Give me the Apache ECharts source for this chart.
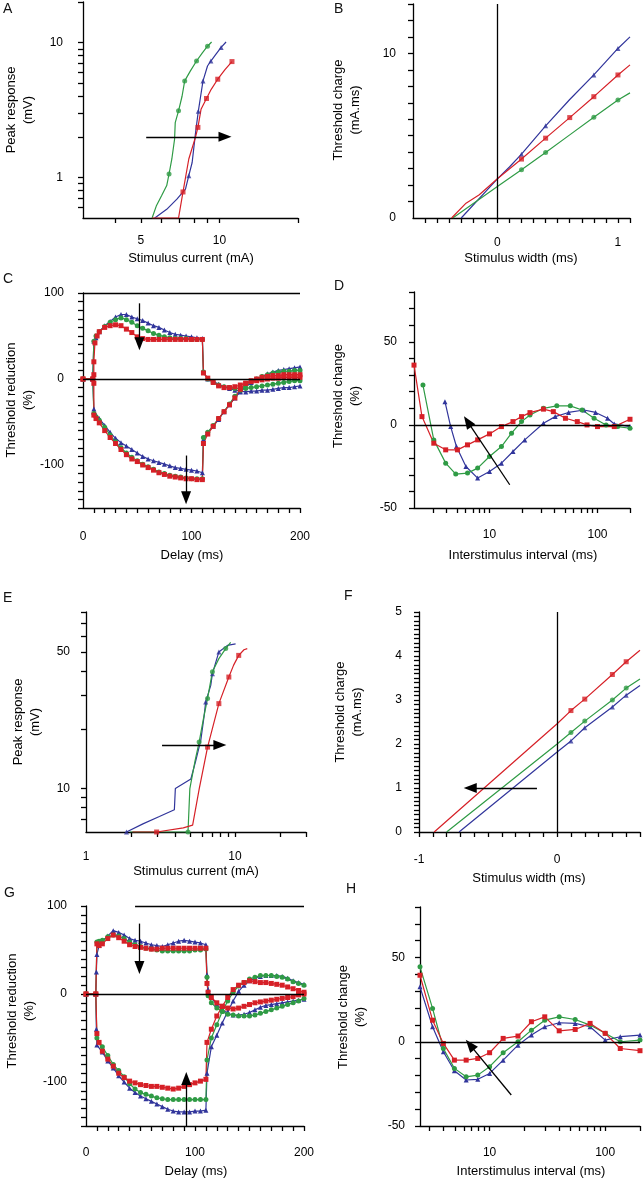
<!DOCTYPE html>
<html>
<head>
<meta charset="utf-8">
<title>Threshold tracking</title>
<script src="https://cdn.jsdelivr.net/npm/echarts@6.0.0/dist/echarts.min.js"></script>
<style>
  html, body { margin: 0; padding: 0; background: #fff; }
  #main { width: 644px; height: 1181px; }
</style>
</head>
<body>
<div id="main"></div>
<script>
// ---------- data ----------
// A: stimulus-response (log/log)
let aBlue = [[5.65,0.5],[6.28,0.58],[6.87,0.69],[7.41,0.82],[7.63,1.03],[7.86,1.29],[8.1,2.15],[8.3,3.1],[8.47,4.0],[8.65,5.2],[9.0,6.7],[9.27,7.3],[9.7,8.2],[10.15,9.2],[10.6,10.1]];
let aBlueMarks = [[7.63,1.03],[8.3,3.1],[8.65,5.2],[9.27,7.3],[10.15,9.2]];
let aGreen = [[5.52,0.5],[5.74,0.62],[6.0,0.73],[6.28,0.87],[6.41,1.06],[6.57,1.37],[6.73,1.92],[6.77,2.55],[6.97,3.12],[7.19,4.0],[7.36,5.2],[7.74,6.17],[8.17,7.3],[8.6,8.4],[9.0,9.4],[9.33,10.1]];
let aGreenMarks = [[6.41,1.06],[6.97,3.12],[7.36,5.2],[8.17,7.3],[9.0,9.4]];
let aRed = [[5.52,0.5],[6.97,0.5],[7.25,0.78],[7.63,1.37],[8.1,2.0],[8.27,2.35],[8.5,3.2],[8.92,3.85],[9.3,4.5],[9.85,5.35],[10.5,6.3],[11.17,7.23]];
let aRedMarks = [[7.25,0.78],[8.27,2.35],[8.92,3.85],[9.85,5.35],[11.17,7.23]];
let aArrow = [[5.24,2.0],[10.5,2.0]];

// B: charge-duration
let bBlue = [[-0.3,0],[0,2.38],[0.1,3.1],[0.2,3.88],[0.4,5.6],[0.6,7.2],[0.8,8.69],[1.0,10.3],[1.1,11.0]];
let bBlueMarks = [[0.2,3.88],[0.4,5.6],[0.8,8.69],[1.0,10.3]];
let bGreen = [[-0.37,0],[0,1.92],[0.2,2.93],[0.4,3.98],[0.6,5.05],[0.8,6.12],[1.0,7.17],[1.1,7.6]];
let bGreenMarks = [[0.2,2.93],[0.4,3.98],[0.8,6.12],[1.0,7.17]];
let bRed = [[-0.38,0],[-0.26,0.9],[-0.15,1.41],[0,2.38],[0.2,3.58],[0.4,4.85],[0.6,6.1],[0.8,7.37],[1.0,8.69],[1.1,9.3]];
let bRedMarks = [[0.2,3.58],[0.4,4.85],[0.6,6.1],[0.8,7.37],[1.0,8.69]];

// C: threshold electrotonus
let cBlueUp = [[0,0],[9,0],[10,44],[12,48],[15,55],[20,62],[25,67],[30,72],[35,75],[40,75],[45,72],[50,70],[55,68],[60,65],[65,62],[70,60],[75,57],[80,54],[85,52],[90,51],[95,50],[100,49],[105,48],[110,47],[111,8],[115,0],[120,-3],[125,-6],[130,-9],[135,-11],[140,-13],[145,-14],[150,-15],[155,-14],[160,-14],[165,-13],[170,-13],[175,-12],[180,-11],[185,-10],[190,-10],[195,-9],[200,-8]];
let cGreenUp = [[0,0],[9,0],[10,44],[12,50],[15,55],[20,61],[25,66],[30,69],[35,71],[40,69],[45,66],[50,62],[55,59],[60,56],[65,53],[70,51],[75,49],[80,48],[85,47],[90,47],[95,47],[100,46],[105,46],[110,46],[111,8],[115,0],[120,-4],[125,-7],[130,-9],[135,-10],[140,-11],[145,-11],[150,-11],[155,-10],[160,-9],[165,-8],[170,-7],[175,-6],[180,-5],[185,-4],[190,-3],[195,-2],[200,-2]];
let cRedUp = [[0,0],[9,0],[10,5],[10,20],[11,42],[13,50],[15,55],[20,60],[25,62],[30,63],[35,62],[40,58],[45,54],[50,49],[55,47],[60,46],[65,46],[70,46],[75,46],[80,46],[85,46],[90,46],[95,46],[100,46],[105,46],[110,46],[111,7],[115,1],[120,-4],[125,-8],[130,-10],[135,-10],[140,-9],[145,-7],[150,-5],[155,-3],[160,-2],[165,-1],[170,0],[175,1],[180,1],[185,2],[190,2],[195,2],[200,2]];
let cBlueDown = [[0,0],[9,0],[10,-35],[12,-42],[15,-46],[20,-54],[25,-62],[30,-69],[35,-74],[40,-78],[45,-82],[50,-86],[55,-90],[60,-93],[65,-95],[70,-97],[75,-99],[80,-101],[85,-103],[90,-104],[95,-105],[100,-106],[105,-107],[110,-109],[111,-70],[115,-62],[120,-55],[125,-47],[130,-38],[135,-30],[140,-22],[145,-15],[150,-9],[155,-4],[160,0],[165,3],[170,6],[175,8],[180,10],[185,11],[190,12],[195,13],[200,14]];
let cGreenDown = [[0,0],[9,0],[10,-40],[12,-44],[15,-48],[20,-56],[25,-65],[30,-73],[35,-80],[40,-86],[45,-91],[50,-95],[55,-99],[60,-102],[65,-105],[70,-108],[75,-110],[80,-112],[85,-113],[90,-114],[95,-115],[100,-116],[105,-116],[110,-116],[111,-68],[115,-62],[120,-54],[125,-46],[130,-38],[135,-29],[140,-20],[145,-13],[150,-7],[155,-3],[160,0],[165,3],[170,5],[175,7],[180,8],[185,9],[190,9],[195,10],[200,10]];
let cRedDown = [[0,0],[9,0],[10,-5],[10,-42],[12,-46],[15,-51],[20,-60],[25,-68],[30,-75],[35,-82],[40,-88],[45,-93],[50,-96],[55,-100],[60,-103],[65,-106],[70,-109],[75,-111],[80,-113],[85,-114],[90,-115],[95,-116],[100,-116],[105,-117],[110,-117],[111,-75],[115,-64],[120,-55],[125,-46],[130,-38],[135,-30],[140,-22],[145,-12],[150,-5],[155,-2],[160,0],[165,2],[170,3],[175,4],[180,4],[185,5],[190,5],[195,5],[200,5]];
let cArrows = [[[52,88],[52,41]],[[95,-89],[95,-138]]];
let cBar = [[0,100],[200,100]];

// D: recovery cycle
let dBlue = [[3.87,14],[4.37,-1],[4.94,-13],[6.05,-25],[7.77,-32],[10,-28],[12.9,-23],[16.5,-16],[21.2,-9],[31.6,1],[40.6,5],[54,7.5],[75,9],[96,7.5],[124,4],[143,0.6],[200,-1]];
let dGreen = [[2.42,24],[3.05,-9],[3.93,-23],[4.87,-29.6],[6.26,-29],[7.77,-26],[10,-19],[12.9,-13],[16,-5],[19.8,2],[23.7,6],[31.6,10],[42,11.5],[56,11.5],[72,9],[93,4],[120,0],[154,-1],[200,-2]];
let dRed = [[2,36],[2.37,5],[3.05,-11],[3.93,-15],[5.05,-15],[6.26,-12],[7.77,-9],[10,-5.4],[12.9,-1],[16.5,2],[19.8,5],[23.7,7.4],[31.6,9.5],[39,8],[50.5,4],[65,2],[80,0],[100,-1],[143,-1],[200,3.4]];
let dArrow = [[15.4,-36],[6.27,2]];

// E: stimulus-response (log/log)
let eBlue = [[1.87,6],[2.41,6.6],[3.11,7.2],[3.92,7.8],[3.98,10],[5.06,11.2],[5.47,14],[5.9,17.7],[6.2,23.3],[6.36,27.7],[6.88,33.7],[7.06,38.7],[7.8,50],[8.9,54],[10.1,55]];
let eBlueMarks = [[1.87,6],[6.36,27.7],[7.06,38.7],[7.8,50]];
let eGreen = [[1.97,6],[4.84,6],[4.98,10],[5.41,14],[5.75,17.3],[6.12,22.4],[6.55,28.9],[7.06,39.6],[7.8,46.2],[8.67,52],[9.36,56]];
let eGreenMarks = [[4.84,6],[5.75,17.3],[6.55,28.9],[7.06,39.6],[8.67,52]];
let eRed = [[2.05,6],[2.98,6],[4.5,6.3],[5.2,6.5],[5.76,10],[6.55,16.3],[7.8,27.2],[9.1,37.2],[9.8,42.8],[10.6,48],[11.5,51.3],[12.1,52]];
let eRedMarks = [[2.98,6],[6.55,16.3],[7.8,27.2],[9.1,37.2],[10.6,48]];
let eArrow = [[3.24,16.7],[7.92,16.7]];

// F: charge-duration
let fBlue = [[-0.71,0],[0,1.82],[0.1,2.07],[0.2,2.37],[0.4,2.84],[0.5,3.11],[0.6,3.33]];
let fBlueMarks = [[0.1,2.07],[0.2,2.37],[0.4,2.84],[0.5,3.11]];
let fGreen = [[-0.8,0],[0,2.0],[0.1,2.26],[0.2,2.52],[0.4,3.0],[0.5,3.27],[0.6,3.48]];
let fGreenMarks = [[0.1,2.26],[0.2,2.52],[0.4,3.0],[0.5,3.27]];
let fRed = [[-0.89,0],[0,2.46],[0.1,2.76],[0.2,3.02],[0.4,3.58],[0.5,3.87],[0.6,4.13]];
let fRedMarks = [[0.1,2.76],[0.2,3.02],[0.4,3.58],[0.5,3.87]];
let fArrow = [[-0.146,1.0],[-0.629,1.0]];

// G: threshold electrotonus
let gBlueUp = [[0,0],[9,0],[9.5,25],[10,45],[12,55],[15,60],[20,66],[25,72],[30,70],[35,67],[40,63],[45,61],[50,60],[55,58],[60,56],[65,55],[70,54],[75,56],[80,58],[85,60],[90,61],[95,60],[100,59],[105,58],[110,56],[111,22],[112,5],[115,-4],[120,-12],[125,-18],[130,-22],[135,-24],[140,-24],[145,-23],[150,-21],[155,-18],[160,-15],[165,-13],[170,-12],[175,-11],[180,-10],[185,-9],[190,-8],[195,-7],[200,-6]];
let gGreenUp = [[0,0],[9,0],[10,59],[12,60],[15,61],[20,65],[25,67],[30,66],[35,63],[40,59],[45,56],[50,54],[55,52],[60,51],[65,50],[70,49],[75,49],[80,49],[85,49],[90,49],[95,49],[100,50],[105,50],[110,51],[111,19],[112,-2],[115,-10],[120,-16],[125,-20],[130,-23],[135,-24],[140,-25],[145,-25],[150,-25],[155,-24],[160,-22],[165,-20],[170,-18],[175,-16],[180,-14],[185,-12],[190,-10],[195,-8],[200,-5]];
let gRedUp = [[0,0],[9,0],[10,57],[12,55],[15,57],[20,63],[25,67],[30,64],[35,60],[40,56],[45,54],[50,53],[55,52],[60,51],[65,51],[70,52],[75,52],[80,52],[85,52],[90,52],[95,52],[100,52],[105,52],[110,52],[111,12],[112,2],[115,-4],[120,-10],[125,-14],[130,-16],[135,-17],[140,-16],[145,-14],[150,-12],[155,-10],[160,-9],[165,-8],[170,-7],[175,-6],[180,-5],[185,-4],[190,-3],[195,-1],[200,0]];
let gBlueDown = [[0,0],[9,0],[9.5,-40],[10,-58],[15,-66],[20,-76],[25,-84],[30,-93],[35,-100],[40,-107],[45,-112],[50,-116],[55,-119],[60,-122],[65,-125],[70,-128],[75,-131],[80,-133],[85,-134],[90,-134],[95,-134],[100,-133],[105,-133],[110,-132],[111,-90],[115,-60],[120,-47],[125,-33],[130,-20],[135,-8],[140,3],[145,10],[150,15],[155,18],[160,20],[165,21],[170,21],[175,21],[180,20],[185,18],[190,15],[195,13],[200,11]];
let gGreenDown = [[0,0],[9,0],[10,-50],[15,-60],[20,-70],[25,-80],[30,-87],[35,-94],[40,-102],[45,-108],[50,-112],[55,-114],[60,-116],[65,-118],[70,-119],[75,-120],[80,-120],[85,-120],[90,-120],[95,-120],[100,-120],[105,-120],[110,-120],[111,-75],[115,-50],[120,-35],[125,-20],[130,-8],[135,2],[140,9],[145,13],[150,17],[155,19],[160,21],[165,21],[170,21],[175,20],[180,19],[185,17],[190,14],[195,12],[200,10]];
let gRedDown = [[0,0],[9,0],[10,-45],[12,-55],[15,-65],[20,-74],[25,-82],[30,-90],[35,-95],[40,-99],[45,-101],[50,-103],[55,-104],[60,-105],[65,-105],[70,-106],[75,-107],[80,-108],[85,-107],[90,-105],[95,-103],[100,-101],[105,-99],[110,-97],[111,-55],[115,-40],[120,-25],[125,-14],[130,-4],[135,5],[140,10],[145,13],[150,15],[155,14],[160,13],[165,13],[170,12],[175,11],[180,10],[185,8],[190,6],[195,4],[200,2]];
let gArrows = [[[49,80],[49,30]],[[92,-150],[92,-96]]];
let gBar = [[45,100],[200,100]];

// H: recovery cycle
let hBlue = [[2.5,32.6],[3.21,8.9],[3.98,-5.9],[4.96,-17.2],[6.27,-22.7],[7.9,-22.3],[10,-18.8],[13.1,-10.9],[17.6,-2],[23,4],[30,8.9],[40,11.3],[55,10.9],[74,8.9],[100,1],[135,3],[200,4]];
let hGreen = [[2.5,44.5],[3.21,19.8],[3.98,-4],[4.96,-15.8],[6.27,-20.8],[7.9,-19.8],[10,-14.8],[13.1,-6.5],[17.6,0],[23,6.9],[30,12.8],[40,14.8],[55,13.2],[74,9.9],[100,5],[135,0],[200,1]];
let hRed = [[2.5,39.5],[3.21,12.8],[3.98,-1],[4.96,-10.9],[6.27,-10.9],[7.9,-9.9],[10,-6.5],[13.1,2],[17.6,3.4],[23,11.9],[30,14.8],[40,6.5],[55,7.3],[74,10.9],[100,5],[135,-4],[200,-5.3]];
let hArrow = [[15.4,-31.6],[6.76,-1.8]];

// ---------- tick values ----------
function steps(a, b, d) {
  let out = [];
  for (let v = a; v <= b + 1e-9; v += d) out.push(+v.toFixed(4));
  return out;
}
let logMinor = [3,4,6,7,8,9,20,30,40,60,70,80,90,200];
let delayLabels = [0,100,200];
let reductionLabels = [-100,0,100];
let changeLabels = [-50,0,50];

// ---------- layout ----------
let colors = ['#31359b', '#2f9b45', '#d62027'];
let shapes = ['triangle', 'circle', 'rect'];
let font = 'Liberation Sans, Arial, sans-serif';
let ink = '#000';

// rect = plot area; xt / yt = centre of the axis titles
let panels = [
  { letter: 'A', lx: 3, ly: 2, rect: [83, 2, 215, 216],
    x: { type: 'log', min: 3, max: 20, labels: [5,10], ticks: [4,5,6,7,8,9,10,20], margin: 17 },
    y: { type: 'log', min: 0.5, max: 20, labels: [1,10], ticks: [0.6,0.7,0.8,0.9,1,2,3,4,5,6,7,8,9,10,20], margin: 20 },
    xt: ['Stimulus current (mA)', 191, 258], yt: ['Peak response\n(mV)', 20, 110],
    curves: [[aBlue, aBlueMarks], [aGreen, aGreenMarks], [aRed, aRedMarks]],
    arrows: [aArrow] },
  { letter: 'B', lx: 334, ly: 2, rect: [413, 4, 217, 214],
    x: { type: 'value', min: -0.7, max: 1.1, labels: [0,1], ticks: steps(-0.6,1.1,0.1), margin: 19 },
    y: { type: 'value', min: 0, max: 13, labels: [0,10], ticks: steps(1,13,1), margin: 17 },
    xt: ['Stimulus width (ms)', 521, 258], yt: ['Threshold charge\n(mA.ms)', 347, 110],
    curves: [[bBlue, bBlueMarks], [bGreen, bGreenMarks], [bRed, bRedMarks]],
    vline: true },
  { letter: 'C', lx: 3, ly: 272, rect: [83, 293, 217, 215],
    x: { type: 'value', min: 0, max: 200, labels: delayLabels, ticks: steps(10,200,10), margin: 23 },
    y: { type: 'value', min: -150, max: 100, labels: reductionLabels, ticks: steps(-150,100,10), margin: 19 },
    xt: ['Delay (ms)', 192, 555], yt: ['Threshold reduction\n(%)', 20, 400],
    curves: [[cBlueUp], [cBlueDown], [cGreenUp], [cGreenDown], [cRedUp], [cRedDown]],
    colorOf: [0,0,1,1,2,2], hline: true, bar: cBar, arrows: cArrows },
  { letter: 'D', lx: 334, ly: 279, rect: [414, 292, 216, 216],
    x: { type: 'log', min: 2, max: 200, labels: [10,100], ticks: logMinor.concat([5,10,50,100]), margin: 21 },
    y: { type: 'value', min: -50, max: 80, labels: changeLabels, ticks: steps(-50,80,10), margin: 17 },
    xt: ['Interstimulus interval (ms)', 523, 555], yt: ['Threshold change\n(%)', 347, 396],
    curves: [[dBlue], [dGreen], [dRed]], hline: true, arrows: [dArrow] },
  { letter: 'E', lx: 3, ly: 591, rect: [86, 612, 220, 220],
    x: { type: 'log', min: 1, max: 30, labels: [1,10], ticks: [2,3,4,5,6,7,8,9,10,20,30], margin: 19 },
    y: { type: 'log', min: 6, max: 80, labels: [10,50], ticks: [7,8,9,10,20,30,40,50,60,70,80], margin: 16 },
    xt: ['Stimulus current (mA)', 196, 871], yt: ['Peak response\n(mV)', 27, 722],
    curves: [[eBlue, eBlueMarks], [eGreen, eGreenMarks], [eRed, eRedMarks]],
    arrows: [eArrow] },
  { letter: 'F', lx: 344, ly: 589, rect: [419, 612, 221, 220],
    x: { type: 'value', min: -1, max: 0.6, labels: [-1,0], ticks: steps(-1,0.6,0.1), margin: 22 },
    y: { type: 'value', min: 0, max: 5, labels: [0,1,2,3,4,5], ticks: steps(0,5,0.1), margin: 17 },
    xt: ['Stimulus width (ms)', 529, 878], yt: ['Threshold charge\n(mA.ms)', 349, 712],
    curves: [[fBlue, fBlueMarks], [fGreen, fGreenMarks], [fRed, fRedMarks]],
    vline: true, arrows: [fArrow] },
  { letter: 'G', lx: 4, ly: 886, rect: [86, 906, 218, 220],
    x: { type: 'value', min: 0, max: 200, labels: delayLabels, ticks: steps(10,200,10), margin: 21 },
    y: { type: 'value', min: -150, max: 100, labels: reductionLabels, ticks: steps(-150,100,10), margin: 19 },
    xt: ['Delay (ms)', 196, 1171], yt: ['Threshold reduction\n(%)', 21, 1011],
    curves: [[gBlueUp], [gBlueDown], [gGreenUp], [gGreenDown], [gRedUp], [gRedDown]],
    colorOf: [0,0,1,1,2,2], hline: true, bar: gBar, arrows: gArrows },
  { letter: 'H', lx: 346, ly: 882, rect: [420, 907, 220, 219],
    x: { type: 'log', min: 2.5, max: 200, labels: [10,100], ticks: logMinor.concat([5,10,50,100]), margin: 21 },
    y: { type: 'value', min: -50, max: 80, labels: changeLabels, ticks: steps(-50,80,10), margin: 15 },
    xt: ['Interstimulus interval (ms)', 531, 1171], yt: ['Threshold change\n(%)', 352, 1017],
    curves: [[hBlue], [hGreen], [hRed]], hline: true, arrows: [hArrow] }
];

// ---------- build option ----------
let grids = [], xAxes = [], yAxes = [], series = [], graphics = [];

function makeAxis(gi, a) {
  return {
    gridIndex: gi, type: a.type, min: a.min, max: a.max,
    axisLine: { onZero: false, lineStyle: { color: ink, width: 1.3 } },
    axisTick: { show: true, customValues: a.ticks, length: 5, lineStyle: { color: ink, width: 1.3 } },
    axisLabel: { customValues: a.labels, margin: a.margin, fontFamily: font, fontSize: 12, color: ink },
    splitLine: { show: false }
  };
}

function seg(p, q, head) {
  return [
    { coord: p, symbol: 'none' },
    head ? { coord: q, symbol: 'triangle', symbolSize: [10, 13] } : { coord: q, symbol: 'none' }
  ];
}

function title(t, rotate) {
  let el = {
    type: 'text', x: t[1], y: t[2], silent: true,
    style: { text: t[0], font: '13px ' + font, fill: ink, align: 'center', verticalAlign: 'middle', lineHeight: 17 }
  };
  if (rotate) el.rotation = Math.PI / 2;
  return el;
}

panels.forEach(function (p, gi) {
  grids.push({ left: p.rect[0], top: p.rect[1], width: p.rect[2], height: p.rect[3] });
  xAxes.push(makeAxis(gi, p.x));
  yAxes.push(makeAxis(gi, p.y));

  // reference lines and arrows
  let marks = [];
  if (p.hline) marks.push({ yAxis: 0, symbol: 'none' });
  if (p.vline) marks.push({ xAxis: 0, symbol: 'none' });
  if (p.bar) marks.push(seg(p.bar[0], p.bar[1], false));
  (p.arrows || []).forEach(function (a) { marks.push(seg(a[0], a[1], true)); });

  p.curves.forEach(function (c, k) {
    let ci = p.colorOf ? p.colorOf[k] : k;
    let s = {
      type: 'line', xAxisIndex: gi, yAxisIndex: gi, data: c[0],
      symbol: shapes[ci], symbolSize: 5, showSymbol: !c[1],
      lineStyle: { color: colors[ci], width: 1.2 },
      itemStyle: { color: colors[ci] },
      emphasis: { disabled: true }, silent: true, z: 2
    };
    if (k === 0 && marks.length) {
      s.markLine = {
        silent: true, symbol: ['none', 'none'], label: { show: false },
        lineStyle: { color: '#000', width: 1.3, type: 'solid' },
        data: marks
      };
    }
    series.push(s);
    if (c[1]) {
      series.push({
        type: 'scatter', xAxisIndex: gi, yAxisIndex: gi, data: c[1],
        symbol: shapes[ci], symbolSize: 5, itemStyle: { color: colors[ci] },
        emphasis: { disabled: true }, silent: true, z: 3
      });
    }
  });

  graphics.push({
    type: 'text', left: p.lx, top: p.ly,
    style: { text: p.letter, font: '14px ' + font, fill: '#111' }
  });
  graphics.push(title(p.xt, false));
  graphics.push(title(p.yt, true));
});

let myChart = echarts.init(document.getElementById('main'));

let option = {
  animation: false,
  grid: grids,
  xAxis: xAxes,
  yAxis: yAxes,
  series: series,
  graphic: graphics
};

myChart.setOption(option);
window.addEventListener('resize', function () {
  myChart.resize();
});
</script>
</body>
</html>
